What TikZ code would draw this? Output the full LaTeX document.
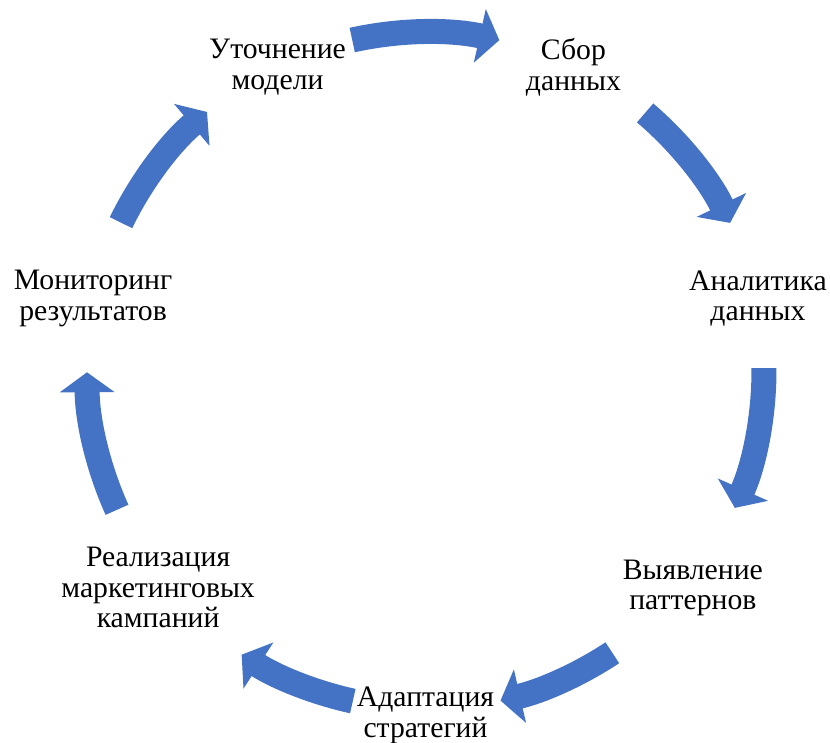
\documentclass[tikz,border=0pt]{standalone}
\usepackage{fontspec}
\setmainfont{Liberation Serif}
\usetikzlibrary{arrows.meta}
\definecolor{cycleblue}{RGB}{68,114,196}

\begin{document}
\begin{tikzpicture}[x=1pt, y=1pt,
  flow/.style={cycleblue, line width=25pt, -{Triangle[width=54pt,length=20pt]}},
  stage/.style={align=center, inner sep=0pt, yshift=-4pt, font=\fontsize{29.7}{30.5}\selectfont}]
\useasboundingbox (-425.5,-371.5) rectangle (404.5,370.5);
\def\R{338.5}

% Stages of the cycle
\node[stage] (collect) at (64.29:341) {Сбор\\данных};
\node[stage] (analytics) at (12.86:341) {Аналитика\\данных};
\node[stage] (patterns) at (-38.57:342) {Выявление\\паттернов};
\node[stage] (adapt) at (-90:341) {Адаптация\\стратегий};
\node[stage] (campaign) at (-141.43:342) {Реализация\\маркетинговых\\кампаний};
\node[stage] (monitor) at (167.14:341) {Мониторинг\\результатов};
\node[stage] (refine) at (115.71:341) {Уточнение\\модели};

% Block arrows, clockwise
\foreach \s/\e in {102.5/77.4, 49.55/25.85, 0.4/-23.95, -56.5/-77.2,
                   -102.4/-122.9, 204.3/180.3, 154.1/130.2}
  \draw[flow] (\s:\R) arc[start angle=\s, end angle=\e, radius=\R];
\end{tikzpicture}
\end{document}
